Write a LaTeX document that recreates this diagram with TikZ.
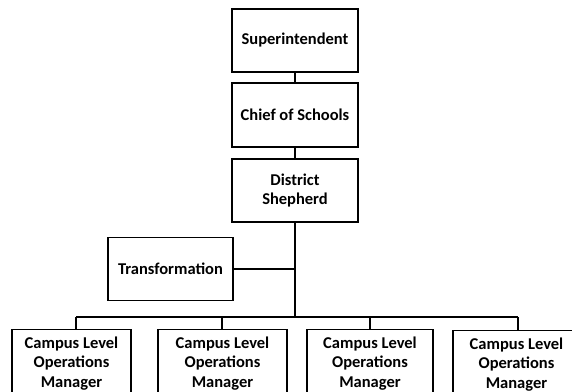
\documentclass[tikz,border=0pt]{standalone}
\usepackage{fontspec}
\setmainfont{Carlito}
\begin{document}
\begin{tikzpicture}[x=1pt,y=-1pt,
  box/.style={draw=black,line width=1.3pt,fill=white,inner sep=0pt,align=center,
    font=\bfseries\fontsize{16.5}{19.5}\selectfont},
  low/.style={box,anchor=north,inner xsep=0pt,inner ysep=7pt},
  link/.style={draw=black,line width=1.3pt}]
\useasboundingbox (0,0) rectangle (572,391);
\clip (0,0) rectangle (572,391);
\node[box,minimum width=126pt,minimum height=63pt] (sup) at (295,40.5) {Superintendent};
\node[box,minimum width=126pt,minimum height=64pt] (chief) at (295,115) {Chief of Schools};
\node[box,minimum width=126pt,minimum height=63pt] (dist) at (295,190.5) {District\\Shepherd};
\node[box,minimum width=125pt,minimum height=63pt] (trans) at (170.5,269) {Transformation};
\coordinate (tj) at (295,269);
\coordinate (bus) at (295,317);
\node[low,minimum width=119pt] (c1) at (71.5,329) {Campus Level\\Operations\\Manager};
\node[low,minimum width=129pt] (c2) at (222.5,329) {Campus Level\\Operations\\Manager};
\node[low,minimum width=126pt] (c3) at (370,329) {Campus Level\\Operations\\Manager};
\node[low,minimum width=127pt] (c4) at (516.5,330) {Campus Level\\Operations\\Manager};
\coordinate (b1) at (76,317);
\coordinate (b2) at (222,317);
\coordinate (b3) at (370,317);
\coordinate (b4) at (518,317);
\draw[link] (sup) -- (chief);
\draw[link] (chief) -- (dist);
\draw[link] (dist) -- (bus);
\draw[link] (trans) -- (tj);
\draw[link] (b1) -- (b4);
\draw[link] (b1) -- (b1 |- c1.north);
\draw[link] (b2) -- (b2 |- c2.north);
\draw[link] (b3) -- (b3 |- c3.north);
\draw[link] (b4) -- (b4 |- c4.north);
\end{tikzpicture}
\end{document}
